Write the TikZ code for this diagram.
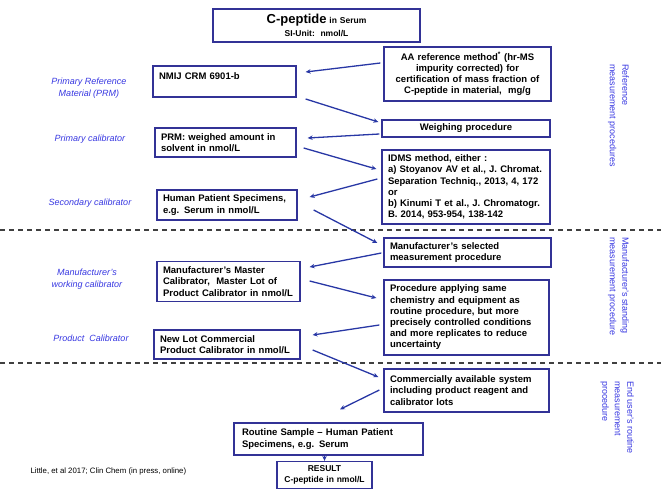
\documentclass[tikz,border=0pt]{standalone}
\usepackage{fontspec}
\setmainfont{Liberation Sans}
\usetikzlibrary{arrows.meta,calc}

\definecolor{boxblue}{RGB}{50,50,150}
\definecolor{arrblue}{RGB}{40,55,165}
\definecolor{lblblue}{RGB}{55,55,225}

\begin{document}
\begin{tikzpicture}[x=1pt, y=-1pt,
  box/.style={draw=boxblue, line width=1.3pt, fill=white, inner xsep=6pt, inner ysep=4pt, align=left,
    font=\bfseries\fontsize{9.5}{11.2}\selectfont},
  lbl/.style={text=lblblue, align=center, font=\itshape\fontsize{9}{12}\selectfont},
  side/.style={text=lblblue, align=left, rotate=-90, anchor=north west, inner sep=0pt,
    font=\fontsize{9}{12.5}\selectfont},
  arr/.style={draw=arrblue, line width=1.3pt, -{Stealth[length=5pt,width=4.5pt]}},
  level/.style={dash pattern=on 5pt off 4pt, line width=1.2pt, draw=black!75}]
  \useasboundingbox (0,0) rectangle (661,489);

  % Levels of the hierarchy
  \draw[level] (0,230) -- (661,230);
  \draw[level] (0,363) -- (661,363);

  \node[box, text width=195pt, minimum height=33pt, align=center,
    font=\bfseries\fontsize{8.5}{13}\selectfont] (title) at (316.5,25.5)
    {{\fontsize{13}{13}\selectfont C-peptide} in Serum\\SI-Unit:\ \ nmol/L};

  % Materials (left column)
  \node[box, text width=131pt, minimum height=31pt] (nmij) at (224.5,81.5) {NMIJ CRM 6901-b\\\mbox{}};
  \node[box, text width=129pt, minimum height=29pt] (prm) at (225.5,142.5) {PRM: weighed amount in\\solvent in nmol/L};
  \node[box, text width=128pt, minimum height=30pt] (hps) at (227,205) {Human Patient Specimens,\\e.g. Serum in nmol/L};
  \node[box, text width=131pt, minimum height=40pt] (master) at (228.5,281.5) {Manufacturer's Master\\Calibrator,\ \ Master Lot of\\Product Calibrator in nmol/L};
  \node[box, text width=134pt, minimum height=29pt] (newlot) at (227,344.5) {New Lot Commercial\\Product Calibrator in nmol/L};

  % Procedures (right column)
  \node[box, text width=155pt, minimum height=54pt, align=center] (aa) at (467.5,74) {AA reference method\textsuperscript{*} (hr-MS\\impurity corrected) for\\certification of mass fraction of\\C-peptide in material,\ \ mg/g};
  \node[box, text width=156pt, minimum height=17pt, inner ysep=2pt, align=center] (weigh) at (466,128.5) {Weighing procedure};
  \node[box, text width=156pt, minimum height=74pt] (idms) at (466,187) {IDMS method, either :\\a) Stoyanov AV et al., J. Chromat.\\Separation Techniq., 2013, 4, 172\\or\\b) Kinumi T et al., J. Chromatogr.\\B. 2014, 953-954, 138-142};
  \node[box, text width=155pt, minimum height=29pt] (mfrsel) at (467.5,252.5) {Manufacturer's selected\\measurement procedure};
  \node[box, text width=153pt, minimum height=75pt] (proc) at (466.5,317.5) {Procedure applying same\\chemistry and equipment as\\routine procedure, but more\\precisely controlled conditions\\and more replicates to reduce\\uncertainty};
  \node[box, text width=153pt, minimum height=43pt] (comm) at (466.5,390.5) {Commercially available system\\including product reagent and\\calibrator lots};

  % Routine use
  \node[box, text width=173pt, inner xsep=8pt, minimum height=32pt] (routine) at (328.5,439) {Routine Sample -- Human Patient\\Specimens, e.g. Serum};
  \node[box, text width=83pt, minimum height=27pt, align=center,
    font=\bfseries\fontsize{8.5}{10.5}\selectfont] (result) at (324.5,475) {RESULT\\C-peptide in nmol/L};

  % Level names
  \node[lbl] (prml) at (89,88) {Primary Reference\\Material (PRM)};
  \node[lbl] (pcl) at (90,139) {Primary calibrator};
  \node[lbl] (scl) at (90,203) {Secondary calibrator};
  \node[lbl] (mwl) at (87,279) {Manufacturer's\\working calibrator};
  \node[lbl] (pdl) at (91,338) {Product\ \ Calibrator};

  \node[side] (refl) at (629,64) {Reference\\measurement procedures};
  \node[side] (mfrl) at (629,237) {Manufacturer's standing\\measurement procedure};
  \node[side] (endl) at (634,381) {End user's routine\\measurement\\procedure};

  \node[anchor=west, font=\fontsize{7.8}{9}\selectfont] (cite) at (27,471) {Little, et al 2017; Clin Chem (in press, online)};

  % Traceability chain
  \draw[arr] ($(aa.west)+(-3,-11)$) -- ($(nmij.east)+(9,-9.5)$);
  \draw[arr] ($(nmij.east)+(9,17.5)$) -- ($(weigh.west)+(-3,-6.5)$);
  \draw[arr] ($(weigh.west)+(-2,5.5)$) -- ($(prm.east)+(11,-4.5)$);
  \draw[arr] ($(prm.east)+(7,5.5)$) -- ($(idms.west)+(-5,-18)$);
  \draw[arr] ($(idms.west)+(-4,-8)$) -- ($(hps.east)+(12,-8)$);
  \draw[arr] ($(hps.east)+(16,5)$) -- ($(mfrsel.west)+(-6,-9.5)$);
  \draw[arr] ($(mfrsel.west)+(-2,0.5)$) -- ($(master.east)+(9,-14.5)$);
  \draw[arr] ($(master.east)+(9,-0.5)$) -- ($(proc.west)+(-7,-19.5)$);
  \draw[arr] ($(proc.west)+(-4,7.5)$) -- ($(newlot.east)+(12,-9.5)$);
  \draw[arr] ($(newlot.east)+(12,5.5)$) -- ($(comm.west)+(-5,-13.5)$);
  \draw[arr] ($(comm.west)+(-4,-0.5)$) -- ($(routine.north)+(11.5,-13)$);
  \draw[arr] (routine.south -| result.north) -- (result.north);
\end{tikzpicture}
\end{document}
